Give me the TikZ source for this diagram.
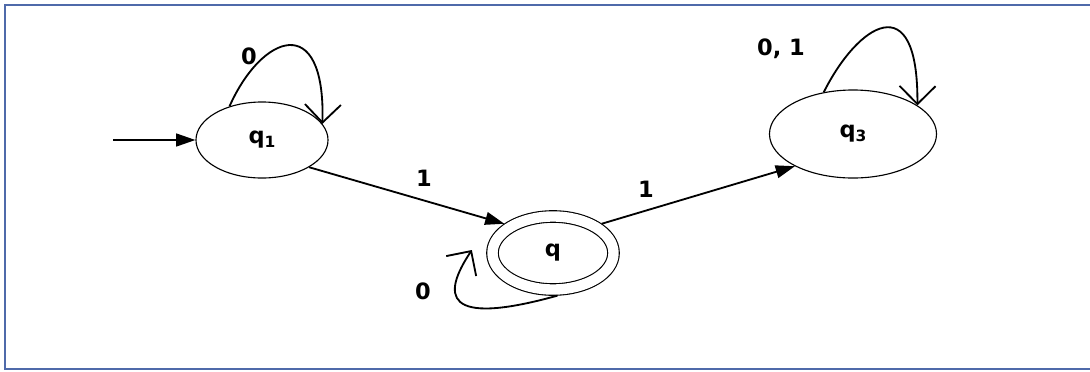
\documentclass[tikz,border=0pt]{standalone}
\usepackage{fontspec}
\setmainfont{DejaVu Sans}
\usetikzlibrary{arrows.meta,shapes.geometric}

\definecolor{framecol}{RGB}{79,106,170}

\begin{document}
\begin{tikzpicture}
[
	x=0.025cm, y=-0.025cm,
	every node/.style={font=\bfseries\fontsize{16}{19}\selectfont},
	state/.style={ellipse,draw,line width=0.8pt,inner sep=0pt},
	accepting/.style={double,double distance=2.6mm,outer sep=1.55mm},
	lbl/.style={inner sep=1pt,text depth=0pt},
	trans/.style={line width=1.3pt,-{Triangle[length=4.8mm,width=3.2mm]}},
	loopedge/.style={line width=1.3pt,-{Straight Barb[length=4.5mm,width=9mm]}}
]

	\useasboundingbox[fill=white] (0,0) rectangle (1090,371);

	% frame
	\draw[framecol,line width=2pt] (1090,5) -- (5,5) -- (5,369) -- (1090,369);

	% states
	\node[state,minimum width=3.3cm,minimum height=1.9cm] (q1) at (262,140)
	  {q\raisebox{-0.3ex}{\fontsize{11}{13}\selectfont 1}};
	\node[state,accepting,minimum width=3.025cm,minimum height=1.825cm] (q) at (553,253) {q};
	\node[state,minimum width=4.175cm,minimum height=2.2cm] (q3) at (853,134)
	  {q\raisebox{-0.3ex}{\fontsize{11}{13}\selectfont 3}};

	% transitions
	\coordinate (start) at (113,140);
	\coordinate (qloopend) at ([shift={(-3.6mm,0.75mm)}]q.west);
	\draw[trans] (start) -- (q1);
	\draw[trans] (q1.-30) -- (q.149);
	\draw[trans] (q.31) -- (q3.209);
	\draw[loopedge] (q1.134) .. controls +(32,-72) and +(3,-114) .. (q1.15);
	\draw[loopedge] (q3.125) .. controls +(34,-68) and +(1,-121) .. (q3.24);
	\draw[loopedge] (q.276) .. controls +(-115,32) and +(-30,45) .. (qloopend);

	% labels
	\node[lbl] (lblq1) at (249,56) {0};
	\node[lbl] (lblqa) at (424,178) {1};
	\node[lbl] (lblqb) at (646,189) {1};
	\node[lbl] (lblq3) at (781,47) {0, 1};
	\node[lbl] (lblq) at (423,291) {0};

\end{tikzpicture}
\end{document}
